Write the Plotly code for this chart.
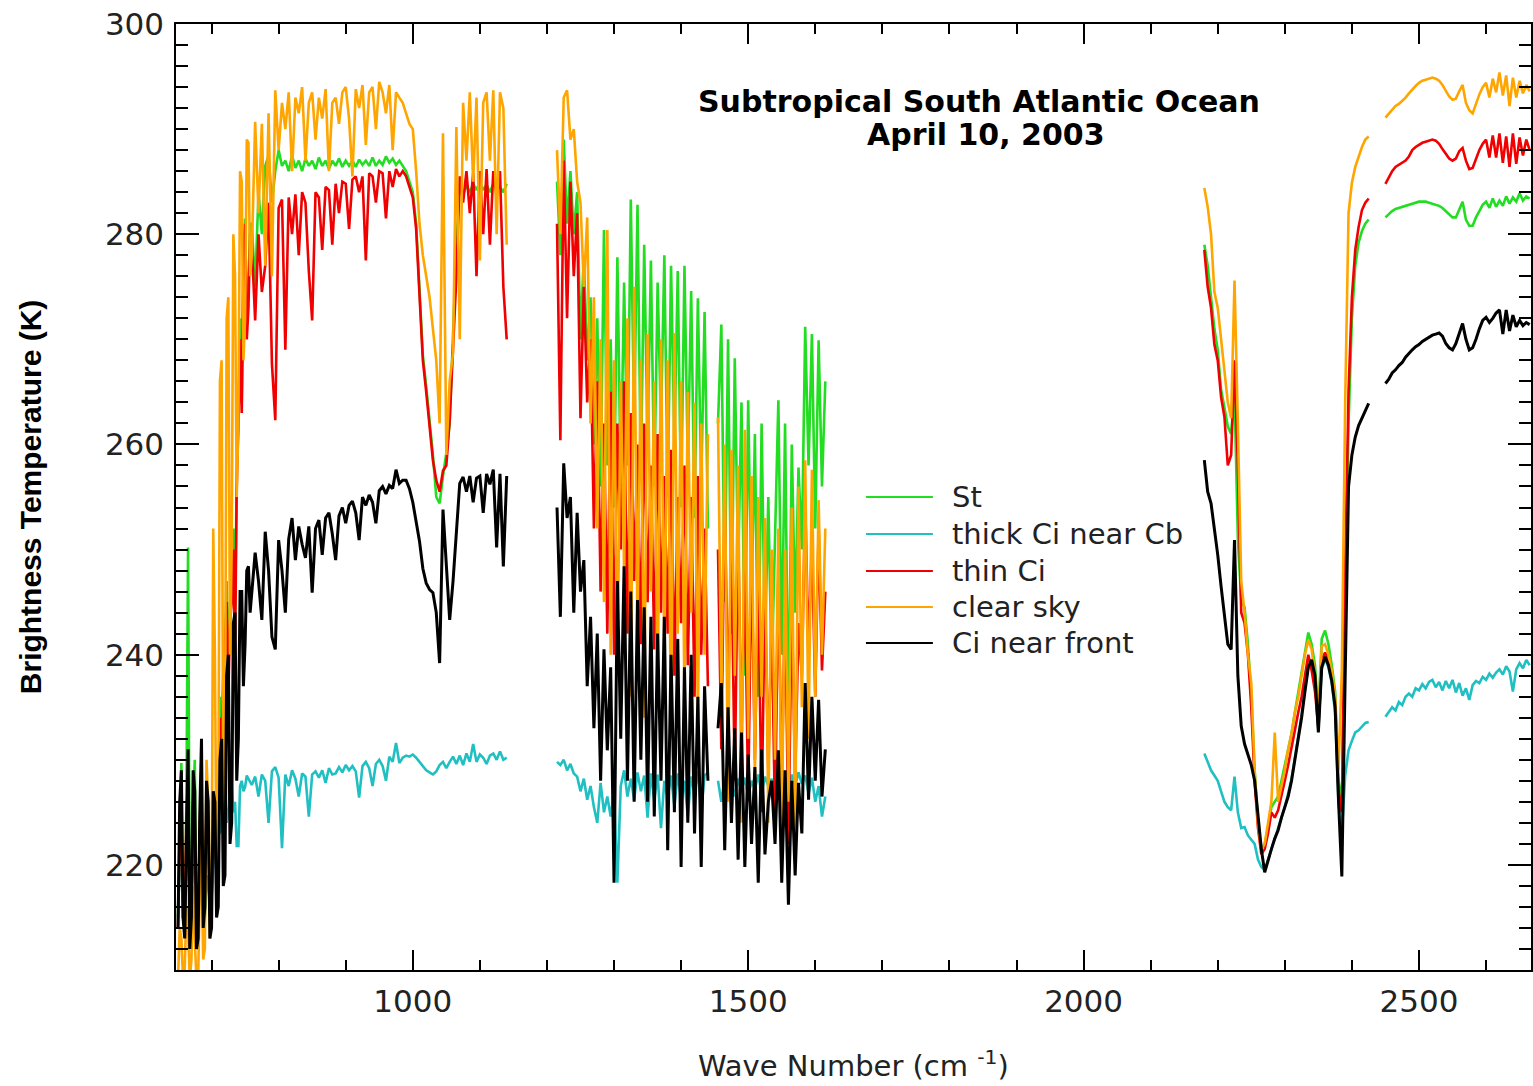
import plotly.graph_objects as go

# ---- spectral channel grids (wavenumber, cm^-1) for the four observed bands ----
# the 15 micron CO2 edge (650-757.5) is sampled twice as finely as the rest of band 1
WN_B1 = [650 + 2.5 * i for i in range(44)] + list(range(760, 1141, 5))
WN_B2 = list(range(1215, 1616, 5))     # water vapour band
WN_B3A = list(range(2180, 2426, 5))    # 4.3 micron CO2 band
WN_B3B = list(range(2450, 2666, 5))    # shortwave window

# ---- brightness temperatures (K) ----
ST_B1 = [215, 224, 229.7, 215, 214, 226, 250.2, 215, 216, 226,
         230, 214, 214, 224, 226, 215, 216, 224, 225, 216,
         217, 227, 226, 221, 222, 236, 234, 238, 240, 247,
         238, 245, 246, 252, 242, 258, 262, 272, 264, 278,
         281.5, 272, 275, 281,
         281, 275, 284, 280, 286.5, 287.5, 283, 286,
         288, 286.5, 287, 286, 287.5, 286.3, 287, 286, 287.2, 286.5,
         287, 286.2, 287.3, 286.5, 287, 286.2, 287, 286.5, 287.2, 286.4,
         287, 286.5, 287, 286.4, 287.1, 286.6, 287, 286.5, 287.3, 286.5,
         287, 286.6, 287.4, 286.8, 287.2, 286.6, 287, 286.5, 286, 285,
         284, 281, 274.5, 268.5, 265.5, 262.5, 259, 255, 254.4, 257,
         259.2, 262, 270, 279, 284.5, 283.8, 284.6, 284, 284.8, 284.2,
         285, 284.2, 284.7, 284, 284.8, 284.3, 284.5, 284, 284.8]
ST_B2 = [285, 278, 289, 281, 286, 280, 284, 270, 278, 268,
         274, 260, 272, 256, 280.4, 258, 270, 254, 277.8, 256,
         275.4, 258, 283.3, 262, 282.8, 257, 279, 260, 277.5, 256,
         275.4, 262, 278, 255, 277, 260, 276.5, 254, 277, 258,
         274.6, 253, 273.9, 256, 272.6, 252,
         None, None,
         262, 271.4, 245, 270, 242, 268.2, 248, 264, 238, 264.2,
         245, 261, 236, 262, 240.5, 255, 238, 252, 264.2, 240,
         262, 233, 260, 244, 257.8, 250, 271.2, 258, 270.5, 252,
         269.9, 256, 266]
ST_B3A = [279, 277, 274, 271, 269, 265.2, 263.5, 261.7, 261, 265,
          251, 245.2, 244.5, 241, 236, 229, 224, 221.5, 222, 223.5,
          225.5, 226, 226.5, 228, 229.5, 231, 232.5, 234.5, 236.5, 238.5,
          240.5, 242.1, 241, 239, 234, 241.5, 242.3, 241, 239, 236.5,
          228, 226, 245, 262, 272, 277, 279.2, 280.3, 281, 281.4]
ST_B3B = [281.6, 281.9, 282.2, 282.4, 282.5, 282.6, 282.7, 282.8, 282.9, 283,
          283.1, 283.1, 283.1, 283, 282.9, 282.8, 282.7, 282.5, 282.2, 281.9,
          281.6, 281.6, 282.3, 283.1, 281.4, 280.8, 280.8, 281.6, 282.2, 282.8,
          283.1, 282.5, 283.4, 282.6, 283.2, 282.7, 283.6, 282.9, 283.5, 283.1,
          283.9, 283.2, 283.6, 283.4]

THICK_B1 = [216, 219, 222, 216, 215, 220, 224, 216, 217, 220,
            221, 215, 214, 219, 222, 216, 215, 218, 219, 216,
            217, 220, 222, 224, 226, 223, 223.5, 225.5, 227, 224,
            225, 227.4, 227.8, 225, 226, 221.8, 221.8, 227.5, 228, 227,
            227.4, 228.5, 228.2, 227.8,
            227.6, 228.4, 226.5, 228.6, 228, 224, 228.9, 229.3,
            228.3, 221.6, 228.6, 227.5, 229, 228.2, 226.5, 228.7, 228.4, 224.6,
            228.6, 228.9, 228.3, 229, 227.8, 229.2, 228.6, 228.7, 229.3, 228.8,
            229.5, 229, 229.4, 228.9, 226.4, 229.4, 229.8, 229.2, 227.5, 229.6,
            230, 229.4, 228, 230.3, 229.8, 231.6, 229.7, 230.2, 230.4, 230.3,
            230.5, 230.2, 229.8, 229.4, 229, 228.8, 228.6, 228.9, 229.5, 229.8,
            229.2, 229.8, 230.3, 229.6, 230.4, 229.5, 230.6, 229.8, 231.5, 229.8,
            230.5, 230.2, 229.6, 230.4, 230.6, 230, 230.8, 230, 230.2]
THICK_B2 = [229.8, 229.5, 230, 229, 229.6, 228.7, 228.4, 227, 228.2, 226.2,
            227.5, 225.5, 224, 227.8, 225, 226.5, 224.6, 227, 218.3, 227.5,
            229, 226.5, 228.2, 226.2, 228.8, 227, 228.5, 224.5, 228.7, 226.2,
            228.6, 223.5, 228, 226.4, 228.5, 225.6, 228.7, 226.2, 228, 224.6,
            228.4, 226.8, 228.9, 225.2, 228.5, 228.8,
            None, None,
            228, 226, 228.4, 227, 228, 226.5, 228.2, 227, 228.3, 226.5,
            228, 227.2, 228.6, 226.8, 228.4, 227.5, 228.2, 226.6, 228.7, 227,
            228.5, 226.8, 228.6, 227.5, 228.8, 227.7, 228.5, 226.8, 228.3, 226,
            227.5, 224.6, 226.5]
THICK_B3A = [230.6, 229.8, 229, 228.5, 228, 227, 226, 225.5, 225.2, 228.4,
             225, 223.5, 223.6, 222.8, 222.4, 222, 220.5, 219.8, 219.5, 220.5,
             221.5, 222.5, 223.3, 224.5, 225.5, 226.8, 228.2, 230.2, 232.2, 234.3,
             236.7, 238.8, 239.4, 237.8, 232.8, 238.6, 239.6, 238.8, 237.3, 234.5,
             226, 223, 228.5, 230.9, 231.8, 232.6, 232.8, 233.2, 233.5, 233.6]
THICK_B3B = [234.1, 234.6, 235, 234.7, 235.5, 235.2, 236, 236.3, 236, 236.8,
             236.6, 237.2, 236.8, 237.4, 237.6, 236.9, 237.4, 236.6, 237.5, 236.8,
             237.6, 236.4, 237.3, 236.1, 236.8, 235.7, 237.1, 237.5, 237.3, 237.9,
             237.6, 238.2, 237.8, 238.3, 238.6, 238.1, 238.9, 238.4, 236.5, 238.6,
             239.2, 238.7, 239.5, 239]

THIN_B1 = [214, 222, 226, 215, 214, 225, 228, 214, 216, 226,
           224, 214, 214, 224, 228, 215, 217, 225, 224, 215,
           216, 226, 223, 219, 220, 234, 232, 236, 240, 245,
           236, 243, 245, 250, 240, 256, 262, 270, 263, 276,
           281, 270, 273, 280,
           279, 271.8, 280, 274.5, 277, 283, 267.7, 262.3,
           282.5, 283.3, 269, 283.5, 280, 283.8, 278, 284, 283, 276.5,
           271.8, 284, 283.5, 278.5, 284.5, 284.2, 279, 284.8, 282, 285,
           284.8, 280.5, 285.2, 285.5, 284, 285.5, 277.5, 285.8, 285.5, 283,
           286, 285.8, 281.5, 286, 284.5, 286.2, 285.5, 286, 285.5, 284.5,
           283.5, 280.5, 274, 268, 265, 262, 258.5, 256.6, 255.5, 257.5,
           258, 262.3, 269, 276, 285.5, 283, 286, 282, 285.8, 276,
           286, 280, 286.2, 279, 286, 283.5, 286, 275, 270]
THIN_B2 = [281, 260.4, 287, 272, 285, 276, 282, 262.5, 275, 264,
           270, 252, 266, 246, 262, 242, 265, 240, 262, 250,
           266, 242, 263, 247, 260, 241, 262, 245, 258, 240.5,
           261, 244, 257, 242, 259.5, 238, 255, 243, 258, 239,
           255, 236, 257, 240, 252, 237,
           None, None,
           250, 231, 254.7, 236, 250, 228, 252, 232, 248, 226,
           250, 230, 247, 225, 246, 229, 244, 224, 248, 227,
           246, 222, 245, 228, 243, 238, 254.7, 240, 250.9, 236,
           252, 238.5, 246]
THIN_B3A = [278.5, 275, 273, 269.5, 268, 264.5, 262.6, 258, 259, 268,
            258, 244, 243, 240, 235, 228, 223.5, 221, 221.5, 223,
            225, 224.5, 225.2, 226.5, 228, 229.5, 231, 232.8, 234.5, 236,
            238, 240, 238.5, 236.5, 233, 239.5, 240.2, 239.5, 238, 235.5,
            227, 225, 248, 265, 274, 278.5, 280.7, 282.3, 283, 283.4]
THIN_B3B = [284.8, 285.4, 286, 286.4, 286.6, 286.8, 287, 287.4, 288, 288.3,
            288.5, 288.7, 288.8, 288.9, 289, 288.9, 288.6, 288.1, 287.6, 287.2,
            287, 287.2, 287.9, 288.2, 287, 286.2, 286.3, 287.2, 288, 288.6,
            289, 287.3, 289.4, 287.3, 289.6, 286.8, 289.3, 286.4, 289.6, 286.7,
            289.2, 287.5, 289, 288]

CLEAR_B1 = [209, 214, 213, 209, 210, 216, 214, 209, 211, 218,
            213, 209, 209, 218, 222, 211, 212, 230, 226, 213,
            215, 252, 240, 218, 222, 266, 268, 226, 230, 272,
            274, 240, 250, 280, 276, 255, 262, 286, 285, 268,
            272, 289, 288.7, 276,
            278, 290.7, 282, 290.5, 277, 291.5, 276, 293.7,
            288, 292.5, 290, 293.5, 286, 293, 291.5, 294, 287, 292.5,
            293.5, 289, 293, 291, 293.8, 286, 292.5, 293, 290.5, 293.5,
            294, 291, 285.5, 293.8, 292, 294.2, 288.5, 293.5, 294, 290,
            294.5, 293.5, 291.5, 294.2, 288, 293.5, 293, 292.5, 291.5, 290.5,
            290, 286, 281, 278, 276, 274, 271, 268, 262, 289.6,
            259, 266, 268.7, 290.2, 270, 292.5, 287, 293.5, 285, 293,
            277.5, 292.5, 293.5, 287, 293.7, 280, 293.5, 292, 279]
CLEAR_B2 = [288, 280, 293, 293.7, 289, 290, 285, 283, 275, 281.6,
            262, 274, 252, 270, 245, 280.4, 240, 268, 238, 266,
            248, 272, 236, 275, 242, 268, 234, 270.5, 246, 266,
            236, 270, 240, 268, 232, 270.6, 242, 266, 236, 265,
            244, 264, 234, 262, 240, 261,
            None, None,
            262.6, 236, 260, 226, 259.5, 238, 258, 224, 261.4, 232,
            257, 228, 255, 236, 253, 224, 250, 230, 252, 222,
            250, 226, 254, 223, 256, 235, 258.5, 232, 257.6, 236,
            254.7, 240, 252]
CLEAR_B3A = [284.4, 282.6, 280, 274.5, 273, 270, 266.5, 264, 262.5, 275.6,
             262, 247, 244, 240, 237.3, 229, 224, 221.4, 222, 224,
             226, 232.6, 226, 227.5, 229, 231, 232.5, 234.5, 236, 238,
             240, 241.4, 240.5, 238, 234, 240.8, 241, 240, 238.5, 236,
             229, 238.5, 264, 282, 284.9, 286.4, 287.4, 288.3, 289, 289.3]
CLEAR_B3B = [291.1, 291.5, 291.9, 292.2, 292.4, 292.7, 293, 293.4, 293.8, 294.1,
             294.4, 294.6, 294.7, 294.8, 294.9, 294.8, 294.6, 294.2, 293.6, 293.1,
             292.8, 292.9, 293.6, 294.2, 292.5, 291.8, 291.5, 292.5, 293.3, 294,
             294.4, 293, 294.8, 293.5, 295.4, 293.2, 295.1, 292.2, 294.9, 293,
             294.6, 293.4, 294.2, 293.6]

FRONT_B1 = [214, 226, 229, 215, 213, 224, 231, 212, 215, 229,
            227, 212, 213, 225, 232, 214, 216, 228, 226, 213,
            214, 227, 226, 215, 216, 230, 232, 218, 219, 238,
            240, 222, 224, 243, 244, 228, 232, 246, 246, 237,
            241, 248, 248.4, 244,
            246, 249.7, 247, 243.3, 251.7, 248, 241.7, 240.5,
            250.9, 248, 244, 251, 253, 249, 252.2, 250.5, 249.2, 252.2,
            245.9, 252, 252.8, 249.5, 253, 253.5, 251.5, 249, 253.2, 254,
            252.5, 254.2, 254.6, 253.5, 250.9, 255, 254.2, 255.2, 254.5, 252.5,
            255.6, 256, 255.3, 256.1, 255.8, 257.6, 256.3, 256.6, 256.6, 255.8,
            254.5, 252.8, 250.8, 248.2, 246.8, 246.2, 245.9, 244, 239.2, 253.8,
            248, 243.3, 247, 252.2, 256.3, 256.9, 255.5, 257, 254.5, 256.8,
            257, 253.5, 257.2, 256.2, 257.6, 250.2, 257.2, 248.4, 257]
FRONT_B2 = [254, 243.6, 258.2, 253, 255, 244, 253.5, 246, 249, 237,
            243.6, 233, 242, 228, 240.5, 230.9, 238.8, 218.3, 247, 232,
            248.4, 228, 246, 226, 245.2, 230, 244.5, 226, 243.6, 224.6,
            242, 228, 243.6, 221.4, 240, 225, 241.5, 219.8, 238.8, 224,
            240, 223, 236, 219.8, 237, 228,
            None, None,
            233, 237.3, 221.4, 235, 224, 233, 220.5, 232.6, 219.8, 230.5,
            222, 229.3, 218.3, 231, 221, 226, 228, 222, 230.9, 218.3,
            229, 216.2, 228, 219, 227.8, 223, 237.3, 226.2, 236, 228,
            235.7, 226.5, 231]
FRONT_B3A = [258.5, 255.5, 254.4, 252, 249.5, 246.5, 243.5, 241, 240.5, 250.9,
             238, 233.2, 231.5, 230.5, 229.5, 228, 225, 221.5, 219.3, 220.5,
             221.5, 222.5, 223.3, 224.5, 225.5, 226.5, 228, 230, 232, 234,
             236.5, 238.8, 239.5, 238, 232.6, 238.8, 239.8, 239, 237.5, 235,
             226.2, 218.9, 238, 256, 259, 260.7, 261.8, 262.5, 263.3, 263.9]
FRONT_B3B = [265.8, 266.2, 266.8, 267.1, 267.5, 267.8, 268.3, 268.7, 269, 269.3,
             269.5, 269.8, 270, 270.2, 270.4, 270.5, 270.6, 270.3, 269.6, 269.2,
             269, 269.6, 270.5, 271.5, 270, 269, 269.2, 270, 271, 271.8,
             272.1, 271.6, 272, 272.5, 272.8, 270.5, 272.8, 270.8, 272.3, 271.2,
             271.8, 271.3, 271.6, 271.4]

SERIES_NAMES = ["St", "thick Ci near Cb", "thin Ci", "clear sky", "Ci near front"]
SERIES_COLORS = ["#22DD22", "#20BFC2", "#F00000", "#FFA500", "#000000"]
SERIES_WIDTHS = [2.6, 2.6, 2.6, 2.6, 3.0]
SERIES_BANDS = [
    (ST_B1, ST_B2, ST_B3A, ST_B3B),
    (THICK_B1, THICK_B2, THICK_B3A, THICK_B3B),
    (THIN_B1, THIN_B2, THIN_B3A, THIN_B3B),
    (CLEAR_B1, CLEAR_B2, CLEAR_B3A, CLEAR_B3B),
    (FRONT_B1, FRONT_B2, FRONT_B3A, FRONT_B3B),
]
# drawing order (bottom to top): thick Ci, St, thin Ci, clear sky, Ci near front
DRAW_ORDER = [1, 0, 2, 3, 4]


def join_bands(*bands):
    out = []
    for i, b in enumerate(bands):
        if i:
            out.append(None)
        out.extend(b)
    return out


wn_all = join_bands(WN_B1, WN_B2, WN_B3A, WN_B3B)

fig = go.Figure()
for k in DRAW_ORDER:
    fig.add_trace(go.Scatter(
        x=wn_all, y=join_bands(*SERIES_BANDS[k]),
        mode="lines", name=SERIES_NAMES[k],
        line=dict(color=SERIES_COLORS[k], width=SERIES_WIDTHS[k]),
        connectgaps=False, showlegend=False, hoverinfo="skip",
    ))

TICK_FONT = dict(family="DejaVu Sans", size=31, color="#222222")

fig.update_xaxes(
    range=[647, 2667], tick0=0, dtick=500,
    ticks="inside", ticklen=20, tickwidth=1.5, tickcolor="black",
    showline=True, linecolor="black", linewidth=1.5, mirror="ticks",
    showgrid=False, zeroline=False, tickfont=TICK_FONT, ticklabelstandoff=3,
    minor=dict(dtick=100, tick0=0, ticks="inside", ticklen=10,
               tickwidth=1.5, tickcolor="black", showgrid=False),
)
fig.update_yaxes(
    range=[210, 300], tick0=0, dtick=20,
    ticks="inside", ticklen=23, tickwidth=1.5, tickcolor="black",
    showline=True, linecolor="black", linewidth=1.5, mirror="ticks",
    showgrid=False, zeroline=False, tickfont=TICK_FONT, ticklabelstandoff=4,
    minor=dict(dtick=2, tick0=0, ticks="inside", ticklen=12,
               tickwidth=1.5, tickcolor="black", showgrid=False),
)

annotations = [
    dict(text="Subtropical South Atlantic Ocean", x=0.5925, y=0.9186,
         font=dict(family="DejaVu Sans", size=30, color="black", weight="bold")),
    dict(text="April 10, 2003", x=0.598, y=0.8827,
         font=dict(family="DejaVu Sans", size=30, color="black", weight="bold")),
    dict(text="Wave Number (cm <sup>-1</sup>)", x=0.5, y=-0.0995,
         font=dict(family="DejaVu Sans", size=29, color="#222222")),
    dict(text="Brightness Temperature (K)", x=-0.1076, y=0.5, textangle=-90,
         font=dict(family="Liberation Sans", size=30, color="black", weight="bold")),
]
for a in annotations:
    a.update(xref="paper", yref="paper", showarrow=False,
             xanchor="center", yanchor="middle")

# legend drawn as line samples with labels
legend_rows = [0.5, 0.4609, 0.4218, 0.3837, 0.3457]
shapes = []
for name, color, yr in zip(SERIES_NAMES, SERIES_COLORS, legend_rows):
    shapes.append(dict(type="line", xref="paper", yref="paper",
                       x0=0.5092, x1=0.5586, y0=yr, y1=yr,
                       line=dict(color=color, width=2)))
    annotations.append(dict(text=name, xref="paper", yref="paper",
                            x=0.5711, y=yr, xanchor="left", yanchor="middle",
                            showarrow=False,
                            font=dict(family="DejaVu Sans", size=29, color="#222222")))

fig.update_layout(
    width=1533, height=1086,
    margin=dict(l=176, r=0, t=24, b=116),
    paper_bgcolor="white", plot_bgcolor="white",
    annotations=annotations, shapes=shapes,
    showlegend=False,
)

fig.write_html("out.html")
